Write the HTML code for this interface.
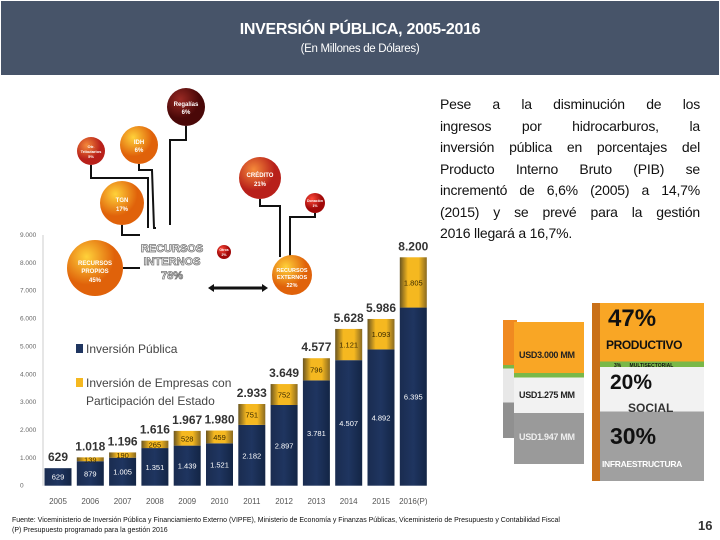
<!DOCTYPE html>
<html><head><meta charset="utf-8">
<style>
body{margin:0;width:720px;height:540px;background:#fff;font-family:"Liberation Sans",sans-serif;overflow:hidden;position:relative}
#hdr{position:absolute;left:1px;top:1px;width:718px;height:74px;background:#475469;color:#fff;text-align:center}
#hdr .t{position:absolute;top:20px;width:100%;font-weight:bold;font-size:16px;letter-spacing:-0.3px}
#hdr .s{position:absolute;top:42px;width:100%;font-size:11.5px;letter-spacing:-0.3px}
#para{position:absolute;left:440px;top:94px;width:260px;font-size:14px;line-height:21.5px;color:#111;letter-spacing:-0.2px}
#para div{text-align:justify;text-align-last:justify;white-space:nowrap}
#para div.l{text-align-last:left}
#foot{position:absolute;left:12px;top:516px;font-size:7px;line-height:10px;color:#111;white-space:nowrap}
#pg{position:absolute;left:698px;top:518px;font-size:13px;font-weight:bold;color:#333}
.box{position:absolute}
.box div{white-space:nowrap}
</style></head><body>
<div id="hdr">
<div class="t">INVERSIÓN PÚBLICA, 2005-2016</div>
<div class="s">(En Millones de Dólares)</div>
</div>
<div id="para">
<div>Pese a la disminución de los</div>
<div>ingresos por hidrocarburos, la</div>
<div>inversión pública en porcentajes del</div>
<div>Producto Interno Bruto (PIB) se</div>
<div>incrementó de 6,6% (2005) a 14,7%</div>
<div>(2015) y se prevé para la gestión</div>
<div class="l">2016 llegará a 16,7%.</div>
</div>

<svg id="chart" width="720" height="540" style="position:absolute;left:0;top:0">
<defs>
<radialGradient id="go" cx="35%" cy="30%"><stop offset="0" stop-color="#ffd23a"/><stop offset="1" stop-color="#e0620a"/></radialGradient>
<radialGradient id="gr" cx="35%" cy="30%"><stop offset="0" stop-color="#f58a3a"/><stop offset="1" stop-color="#b8201a"/></radialGradient>
<radialGradient id="gm" cx="35%" cy="30%"><stop offset="0" stop-color="#9a2a24"/><stop offset="1" stop-color="#4a0808"/></radialGradient>
<radialGradient id="gd" cx="35%" cy="30%"><stop offset="0" stop-color="#ff4a3a"/><stop offset="1" stop-color="#a00808"/></radialGradient>
<linearGradient id="gy" x1="0" x2="1"><stop offset="0" stop-color="#6a5520"/><stop offset="0.3" stop-color="#f5b820"/><stop offset="0.7" stop-color="#f5b820"/><stop offset="1" stop-color="#8a6a20"/></linearGradient>
<linearGradient id="gb" x1="0" x2="1"><stop offset="0" stop-color="#1a2c50"/><stop offset="0.5" stop-color="#1f3560"/><stop offset="1" stop-color="#132545"/></linearGradient>
</defs>
<g id="bubbles" stroke="#111" stroke-width="2" fill="none">
<polyline points="186,126 186,140 170,140 170,225"/>
<polyline points="139,164 139,170 152,170 154,228 156,228"/>
<polyline points="91,165 91,178 148,178 148,228"/>
<polyline points="122,225 122,235 140,235"/>
<line x1="123" y1="268" x2="140" y2="268"/>
<line x1="217" y1="252" x2="224" y2="252"/>
<polyline points="260,199 260,206 280,206 280,257"/>
<polyline points="315,213 315,217 290,217 290,256"/>
<line x1="212" y1="288" x2="264" y2="288" stroke-width="3"/>
</g>
<polygon points="208,288 214,284 214,292" fill="#111"/><polygon points="268,288 262,284 262,292" fill="#111"/>
<g font-weight="bold" text-anchor="middle" fill="#fff" font-size="6">
<circle cx="186" cy="107" r="19" fill="url(#gm)"/><text x="186" y="106">Regalías</text><text x="186" y="114">6%</text>
<circle cx="139" cy="145" r="19" fill="url(#go)"/><text x="139" y="144">IDH</text><text x="139" y="152">6%</text>
<circle cx="91" cy="151" r="14" fill="url(#gr)"/><text x="91" y="148" font-size="4">Otr.</text><text x="91" y="153" font-size="4">Tributarios</text><text x="91" y="158" font-size="4">5%</text>
<circle cx="122" cy="203" r="22" fill="url(#go)"/><text x="122" y="202">TGN</text><text x="122" y="211">17%</text>
<circle cx="95" cy="268" r="28" fill="url(#go)"/><text x="95" y="265">RECURSOS</text><text x="95" y="273">PROPIOS</text><text x="95" y="282">45%</text>
<circle cx="224" cy="252" r="7" fill="url(#gd)"/><text x="224" y="251" font-size="3.5">Otros</text><text x="224" y="256" font-size="3.5">2%</text>
<circle cx="260" cy="178" r="21" fill="url(#gr)"/><text x="260" y="177">CRÉDITO</text><text x="260" y="186">21%</text>
<circle cx="315" cy="203" r="10" fill="url(#gd)"/><text x="315" y="202" font-size="3.5">Donación</text><text x="315" y="207" font-size="3.5">1%</text>
<circle cx="292" cy="275" r="20" fill="url(#go)"/><text x="292" y="272" font-size="5.5">RECURSOS</text><text x="292" y="279" font-size="5.5">EXTERNOS</text><text x="292" y="287" font-size="5.5">22%</text>
<g fill="#fff" stroke="#777" stroke-width="0.8" font-size="11"><text x="172" y="252">RECURSOS</text><text x="172" y="265">INTERNOS</text><text x="172" y="279">78%</text></g>
</g>
<g id="axes"></g><g id="bars"></g>
<g id="legend" font-size="12" fill="#444">
<rect x="76" y="344" width="7" height="9" fill="#1f3560"/>
<text x="86" y="353">Inversión Pública</text>
<rect x="76" y="378" width="7" height="9" fill="#f5b820"/>
<text x="86" y="387">Inversión de Empresas con</text>
<text x="86" y="405">Participación del Estado</text>
</g>
</svg>

<div class="box" style="left:503px;top:320px;width:14px;height:118px;background:linear-gradient(#f08a20 0 38%,#7ab848 38% 41%,#e8e8e8 41% 70%,#909090 70%)"></div>
<div class="box" style="left:514px;top:322px;width:70px;height:142px;background:linear-gradient(#f9a625 0 36%,#7ab848 36% 39%,#f2f2f2 39% 64%,#9a9a9a 64%);font-weight:bold;font-size:9px;color:#222;letter-spacing:-0.3px">
<div style="position:absolute;left:5px;top:28px">USD3.000 MM</div>
<div style="position:absolute;left:5px;top:68px">USD1.275 MM</div>
<div style="position:absolute;left:5px;top:110px;color:#eee">USD1.947 MM</div></div>
<div class="box" style="left:592px;top:303px;width:104px;height:178px;background:linear-gradient(#f9a625 0 33%,#7ab848 33% 36%,#f2f2f2 36% 61%,#a0a0a0 61%);font-weight:bold;color:#111;border-left:8px solid #c97018">
<div style="position:absolute;left:8px;top:2px;font-size:24px">47%</div>
<div style="position:absolute;left:6px;top:35px;font-size:12px;letter-spacing:-0.4px">PRODUCTIVO</div>
<div style="position:absolute;left:14px;top:60px;font-size:5px">3% &nbsp;&nbsp;&nbsp;&nbsp; MULTISECTORIAL</div>
<div style="position:absolute;left:10px;top:68px;font-size:21px">20%</div>
<div style="position:absolute;left:28px;top:98px;font-size:12px;color:#333">SOCIAL</div>
<div style="position:absolute;left:10px;top:120px;font-size:23px">30%</div>
<div style="position:absolute;left:2px;top:156px;font-size:8.5px;color:#fff;letter-spacing:-0.3px">INFRAESTRUCTURA</div></div>

<div id="foot">Fuente: Viceministerio de Inversión Pública y Financiamiento Externo (VIPFE), Ministerio de Economía y Finanzas Públicas, Viceministerio de Presupuesto y Contabilidad Fiscal<br>(P) Presupuesto programado para la gestión 2016</div>
<div id="pg">16</div>

<script>
const years=["2005","2006","2007","2008","2009","2010","2011","2012","2013","2014","2015","2016(P)"];
const publica=[629,879,1005,1351,1439,1521,2182,2897,3781,4507,4892,6395];
const empresas=[0,139,190,265,528,459,751,752,796,1121,1093,1805];
const totals=[629,1018,1196,1616,1967,1980,2933,3649,4577,5628,5986,8200];
const yTicks=[0,1000,2000,3000,4000,5000,6000,7000,8000,9000];
const tickLabels=["0","1.000","2.000","3.000","4.000","5.000","6.000","7.000","8.000","9.000"];
const NS="http://www.w3.org/2000/svg";
const y=v=>485.7-v*(250.7/9000);
const xc=i=>58+i*32.3;
const fmt=v=>v>=1000?String(v).replace(/(\d)(\d{3})$/,"$1.$2"):String(v);
function mk(tag,at,par,txt){const e=document.createElementNS(NS,tag);for(const k in at)e.setAttribute(k,at[k]);if(txt!==undefined)e.textContent=txt;par.appendChild(e);return e;}
const ax=document.getElementById("axes"),bg=document.getElementById("bars");
const axl=mk("line",{x1:43,y1:y(9000),x2:43,y2:y(0),stroke:"#ccc"},ax);


yTicks.forEach((t,i)=>{const tx=mk("text",{x:20,y:y(t)+2,"font-size":"6.5",fill:"#666","text-anchor":"start"},ax,tickLabels[i]);

});
years.forEach((yr,i)=>{
const c=xc(i),w=27;
const b1=mk("rect",{x:c-w/2,y:y(publica[i]),width:w,height:y(0)-y(publica[i]),fill:"url(#gb)"},bg);


if(empresas[i]>0){const b2=mk("rect",{x:c-w/2,y:y(publica[i]+empresas[i]),width:w,height:y(publica[i])-y(publica[i]+empresas[i]),fill:"url(#gy)"},bg);


const l2=mk("text",{x:c,y:(y(publica[i])+y(publica[i]+empresas[i]))/2+3,"font-size":"7.5",fill:"#3a2a00","text-anchor":"middle"},bg,fmt(empresas[i]));

}
const l1=mk("text",{x:c,y:Math.min(y(publica[i])+(y(0)-y(publica[i]))/2+3,y(0)-6),"font-size":"7.5",fill:"#fff","text-anchor":"middle"},bg,fmt(publica[i]));


const lt=mk("text",{x:c,y:y(totals[i])-7,"font-size":"12","font-weight":"bold",fill:"#333","text-anchor":"middle"},bg,fmt(totals[i]));


const xl=mk("text",{x:c,y:504,"font-size":"8",fill:"#555","text-anchor":"middle"},bg,yr);


});
</script>
</body></html>
